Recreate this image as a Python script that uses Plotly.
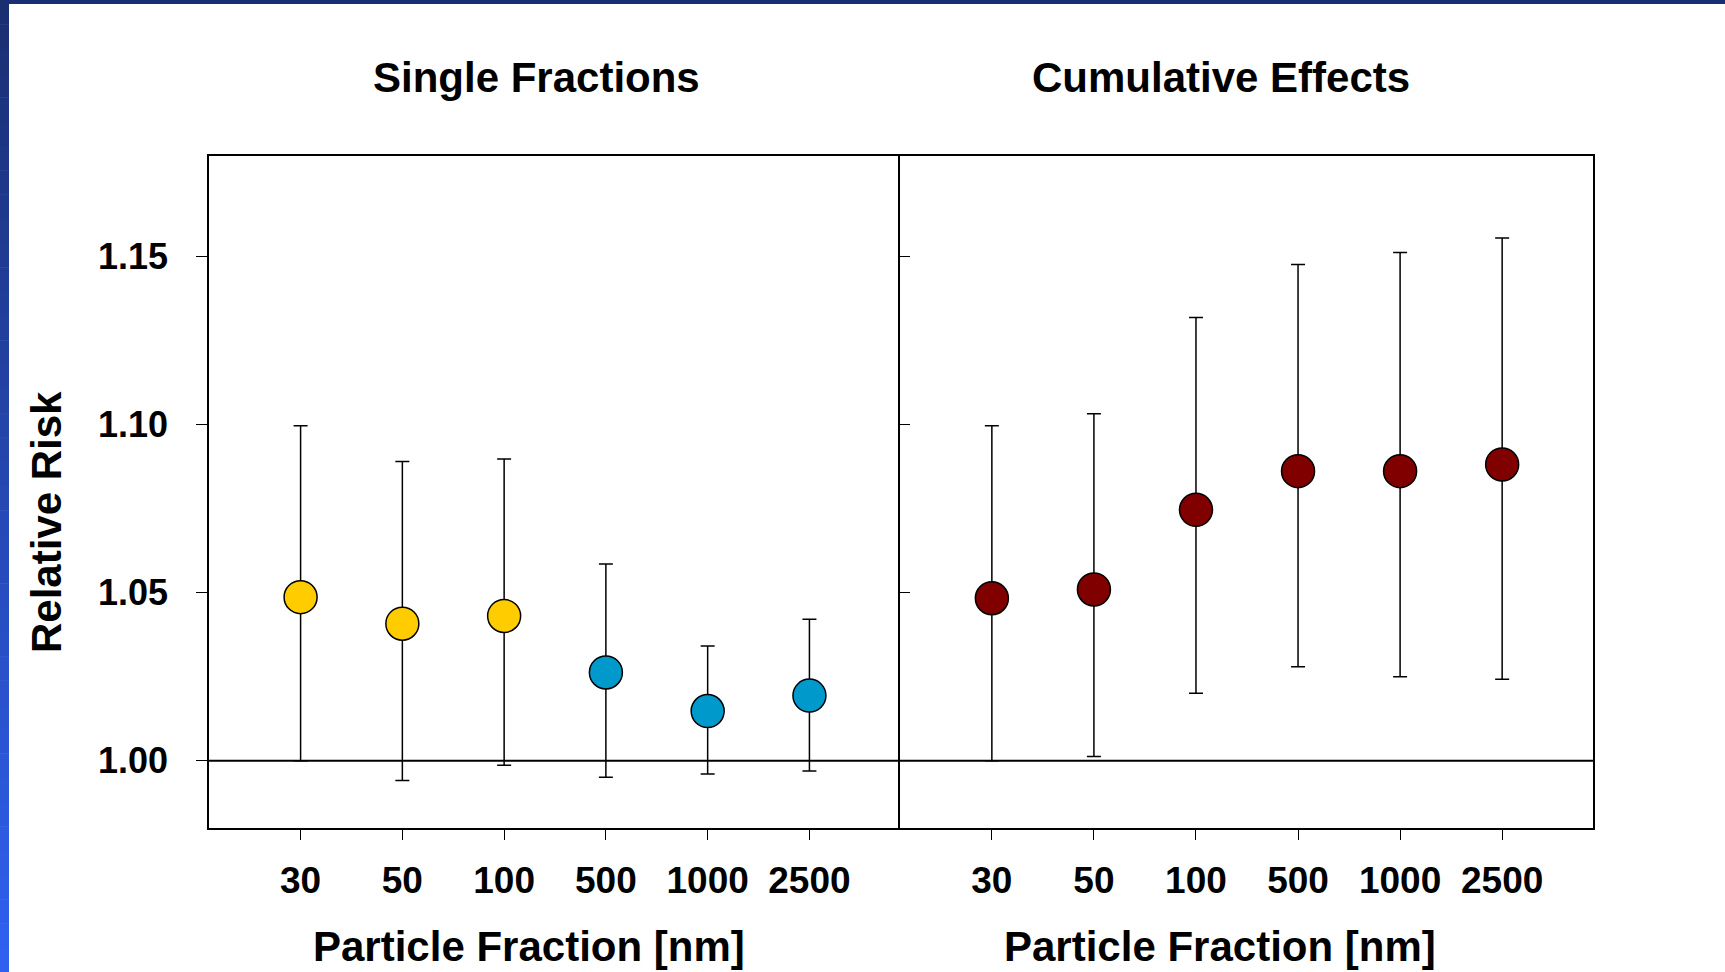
import plotly.graph_objects as go

categories = ["30", "50", "100", "500", "1000", "2500"]

single_rr = [1.0487, 1.0408, 1.0431, 1.0263, 1.0148, 1.0194]
single_hi = [1.0997, 1.0891, 1.0898, 1.0586, 1.0342, 1.0421]
single_lo = [1.0000, 0.9941, 0.9987, 0.9951, 0.9961, 0.9970]
single_colors = ["#FFCC00", "#FFCC00", "#FFCC00", "#0099CC", "#0099CC", "#0099CC"]

cum_rr = [1.0484, 1.0510, 1.0747, 1.0862, 1.0862, 1.0882]
cum_hi = [1.0997, 1.1033, 1.1319, 1.1477, 1.1513, 1.1556]
cum_lo = [1.0000, 1.0013, 1.0201, 1.0280, 1.0250, 1.0243]
cum_color = "#800000"

y_ticks = [1.00, 1.05, 1.10, 1.15]
panel_titles = ["Single Fractions", "Cumulative Effects"]
x_title = "Particle Fraction [nm]"
y_title = "Relative Risk"

FONT = "Liberation Sans, Arial, sans-serif"
W, H = 1725, 972
L, R, T, B = 209, 1593, 156, 828
PW, PH = R - L, B - T
split = (900 - L) / PW


def px_x(px):
    return (px - L) / PW


def px_y(py):
    return (B - py) / PH


fig = go.Figure()

fig.add_trace(go.Scatter(
    x=categories, y=single_rr, mode="markers",
    marker=dict(size=33, color=single_colors, line=dict(color="black", width=1.5)),
    error_y=dict(type="data", symmetric=False,
                 array=[h - v for h, v in zip(single_hi, single_rr)],
                 arrayminus=[v - l for v, l in zip(single_rr, single_lo)],
                 color="black", thickness=1.5, width=7),
    xaxis="x", yaxis="y", showlegend=False,
))

fig.add_trace(go.Scatter(
    x=categories, y=cum_rr, mode="markers",
    marker=dict(size=33, color=cum_color, line=dict(color="black", width=1.5)),
    error_y=dict(type="data", symmetric=False,
                 array=[h - v for h, v in zip(cum_hi, cum_rr)],
                 arrayminus=[v - l for v, l in zip(cum_rr, cum_lo)],
                 color="black", thickness=1.5, width=7),
    xaxis="x2", yaxis="y2", showlegend=False,
))

axis_common = dict(
    type="category", range=[-0.9, 5.89], showgrid=False, zeroline=False,
    showline=True, linecolor="black", linewidth=1.5, mirror=True,
    ticks="outside", ticklen=10, tickcolor="black", tickwidth=1.2,
    tickfont=dict(family=FONT, size=37, color="black", weight="bold"),
    ticklabelstandoff=9,
)

fig.update_layout(
    width=W, height=H,
    margin=dict(l=L, r=W - R, t=T, b=H - B, pad=0),
    paper_bgcolor="white", plot_bgcolor="white",
    font=dict(family=FONT, color="black"),
    xaxis=dict(domain=[0, split], anchor="y", **axis_common),
    xaxis2=dict(domain=[split, 1], anchor="y2", **axis_common),
    yaxis=dict(
        domain=[0, 1], anchor="x", range=[0.98, 1.18],
        tickvals=y_ticks, ticktext=[f"{v:.2f}" for v in y_ticks],
        showgrid=False, zeroline=False, showline=True, linecolor="black",
        linewidth=1.5, mirror=False, ticks="outside", ticklen=11,
        tickcolor="black", tickwidth=1.2,
        tickfont=dict(family=FONT, size=36, color="black", weight="bold"),
        ticklabelstandoff=21,
    ),
    yaxis2=dict(
        domain=[0, 1], anchor="x2", range=[0.98, 1.18], matches="y",
        tickvals=y_ticks, showticklabels=False,
        showgrid=False, zeroline=False, showline=True, linecolor="black",
        linewidth=1.5, mirror=True, ticks="inside", ticklen=10,
        tickcolor="black", tickwidth=1.2,
    ),
)

# reference line at RR = 1.00
fig.add_shape(type="line", xref="paper", yref="y", x0=0, x1=1, y0=1.0, y1=1.0,
              line=dict(color="black", width=2))

# slide decoration: top bar and gradient left bar
fig.add_shape(type="rect", xref="paper", yref="paper",
              x0=px_x(0), x1=px_x(W), y0=px_y(4), y1=px_y(0),
              fillcolor="#1a2e72", line=dict(width=0), layer="above")
n_seg = 40
c_top = (26, 46, 114)
c_bot = (47, 96, 240)
for i in range(n_seg):
    t = i / (n_seg - 1)
    col = tuple(round(a + (b - a) * t) for a, b in zip(c_top, c_bot))
    y0p = H * i / n_seg
    y1p = H * (i + 1) / n_seg
    fig.add_shape(type="rect", xref="paper", yref="paper",
                  x0=px_x(0), x1=px_x(9), y0=px_y(y1p + 0.5), y1=px_y(y0p),
                  fillcolor="rgb(%d,%d,%d)" % col, line=dict(width=0), layer="above")

annots = [
    dict(text=panel_titles[0], x=px_x(536), y=px_y(77), size=42),
    dict(text=panel_titles[1], x=px_x(1221), y=px_y(77), size=42),
    dict(text=x_title, x=px_x(529), y=px_y(946), size=42),
    dict(text=x_title, x=px_x(1220), y=px_y(946), size=42),
]
for a in annots:
    fig.add_annotation(text=a["text"], xref="paper", yref="paper", x=a["x"], y=a["y"],
                       xanchor="center", yanchor="middle", showarrow=False,
                       font=dict(family=FONT, size=a["size"], color="black", weight="bold"))
fig.add_annotation(text=y_title, xref="paper", yref="paper", x=px_x(46), y=px_y(522),
                   xanchor="center", yanchor="middle", showarrow=False, textangle=-90,
                   font=dict(family=FONT, size=42, color="black", weight="bold"))

fig.write_html("out.html")
